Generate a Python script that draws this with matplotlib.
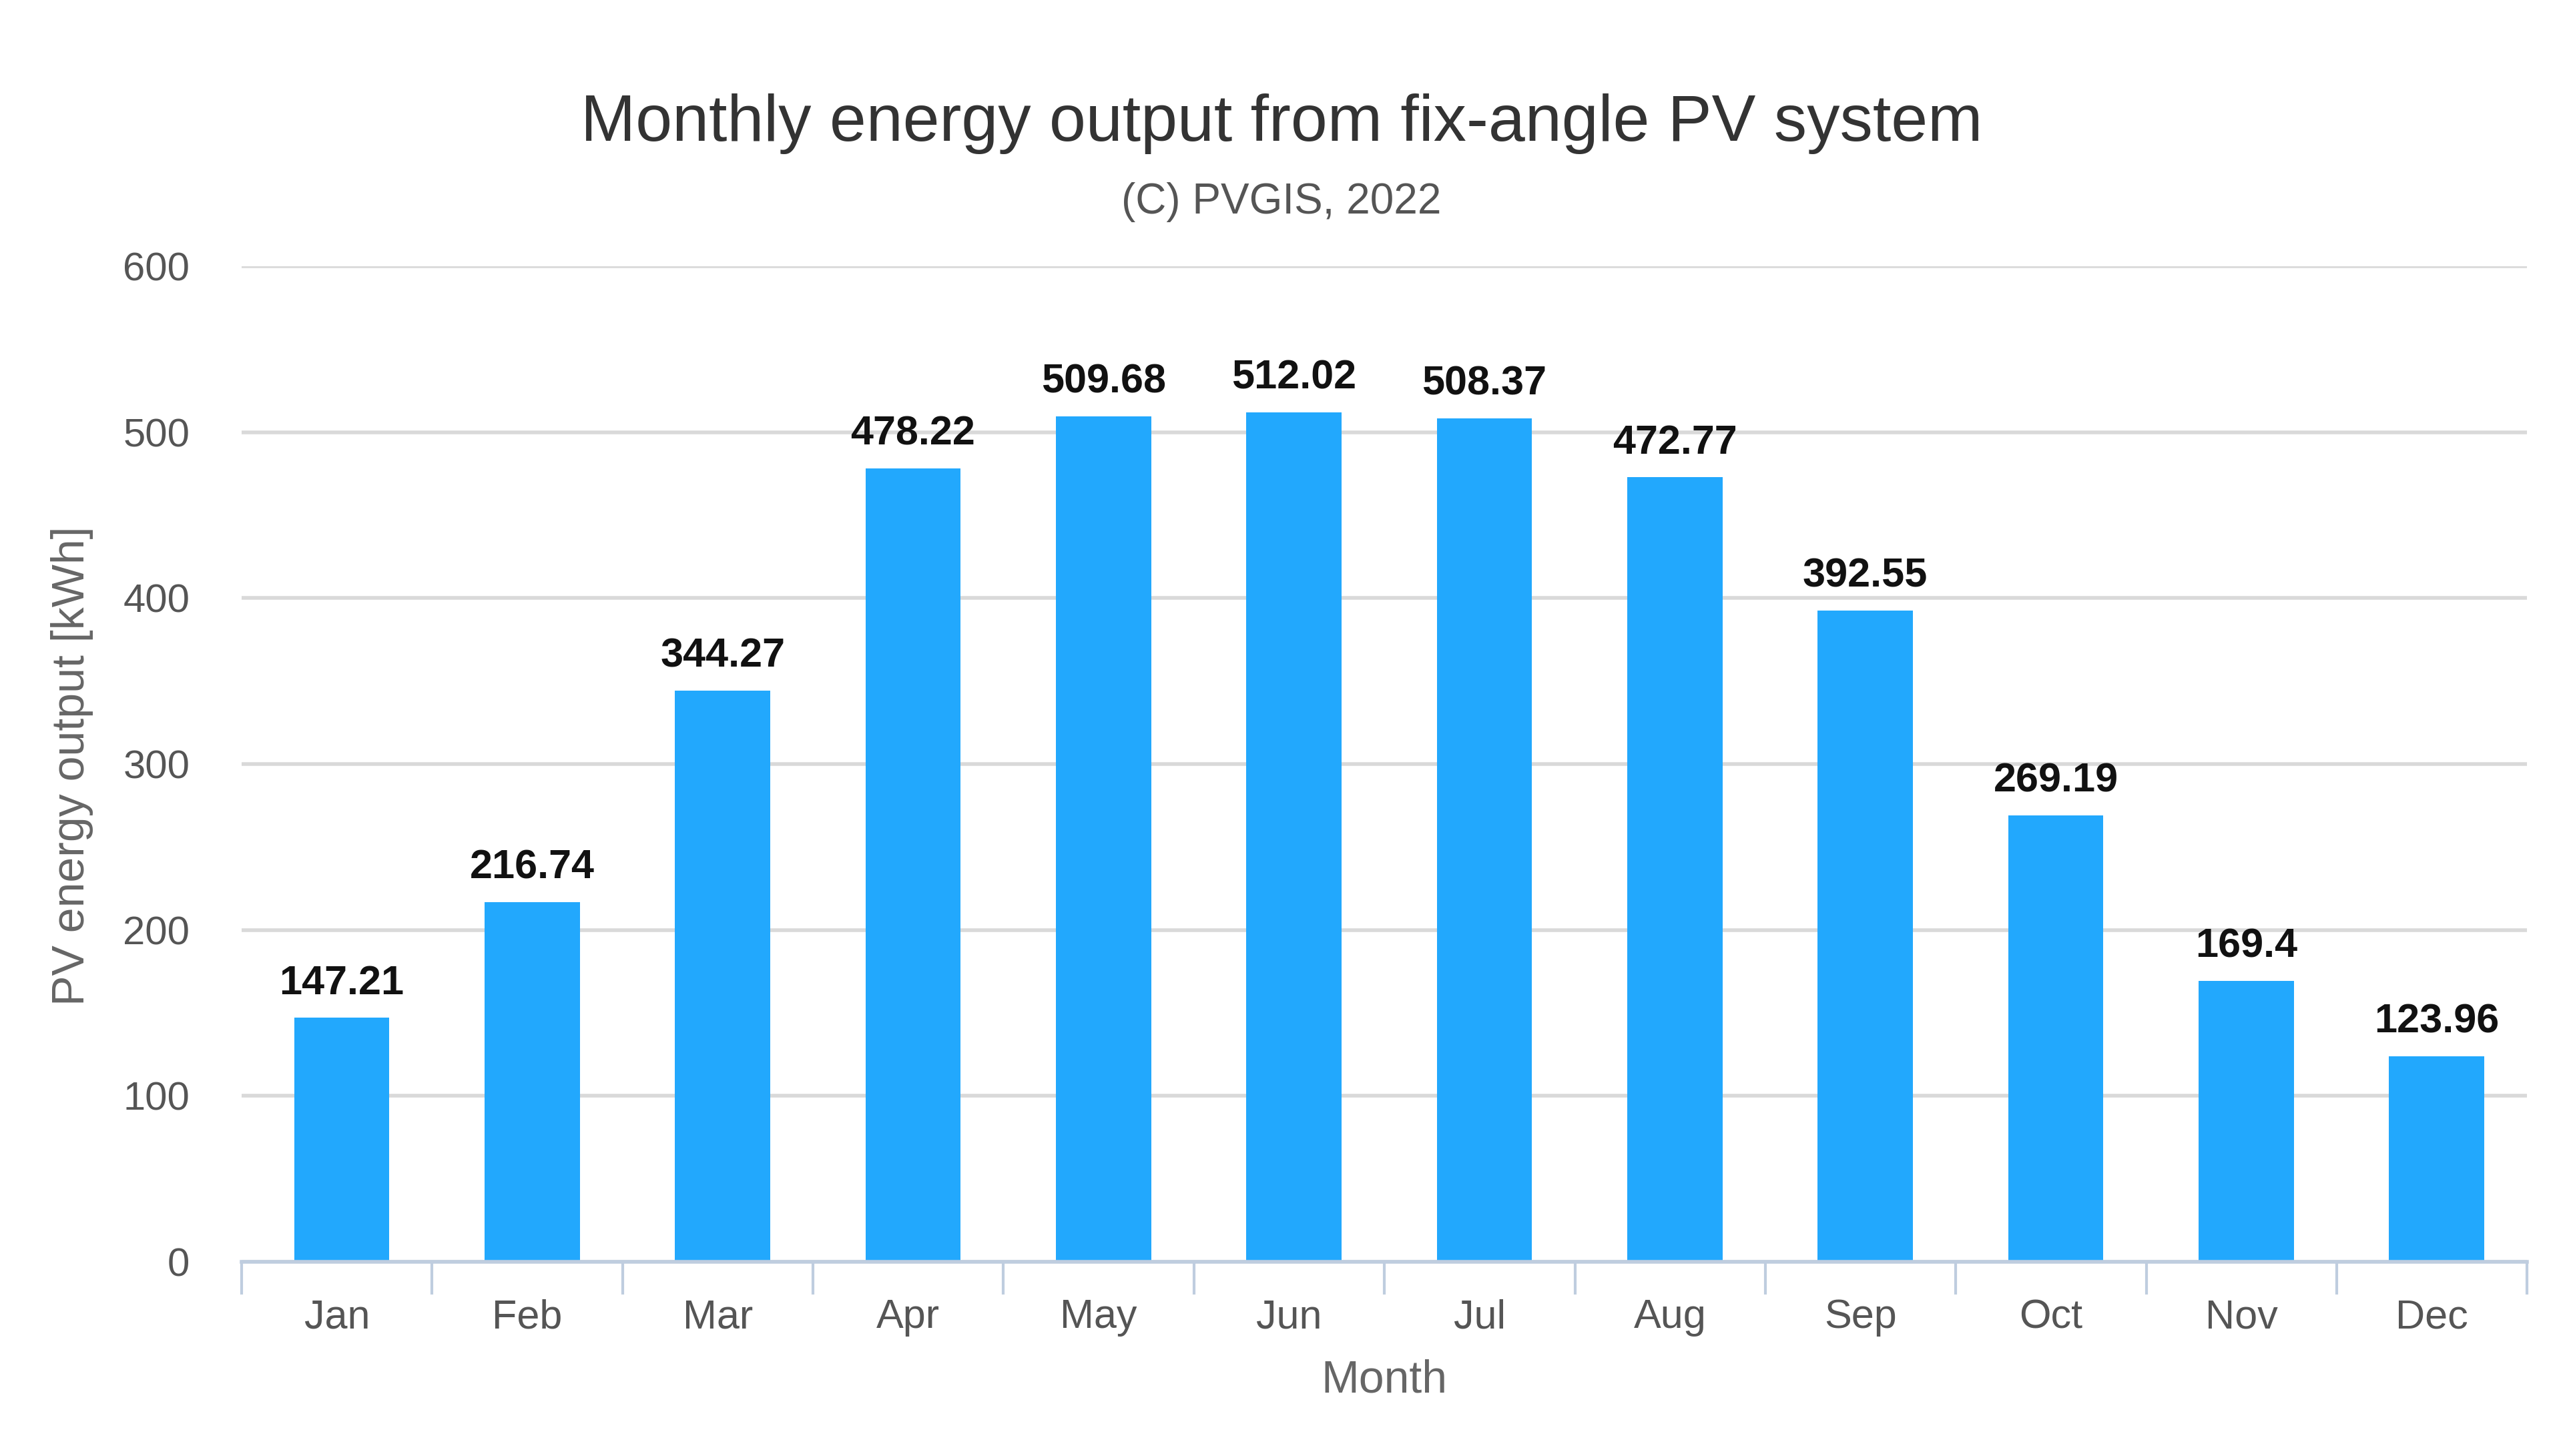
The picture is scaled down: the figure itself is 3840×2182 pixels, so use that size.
import matplotlib
matplotlib.use("Agg")
import matplotlib.pyplot as plt
import numpy as np

months = ["Jan", "Feb", "Mar", "Apr", "May", "Jun", "Jul", "Aug", "Sep", "Oct", "Nov", "Dec"]
energy = [147.21, 216.74, 344.27, 478.22, 509.68, 512.02, 508.37, 472.77, 392.55, 269.19, 169.4, 123.96]
yticks = [0, 100, 200, 300, 400, 500, 600]

plt.rcParams['font.family'] = ['Liberation Sans', 'DejaVu Sans']

fig = plt.figure(figsize=(19.2, 10.91), dpi=200)
ax = fig.add_axes([0.0943, 0.1334, 0.8917, 0.6837])

x = np.arange(len(months))
ax.bar(x + 0.025, energy, width=0.5, color='#22A8FD', zorder=3)

for xi, v in zip(x, energy):
    ax.annotate(f"{v:g}", (xi + 0.025, v), xytext=(0, 8), textcoords='offset points',
                ha='center', va='bottom', fontsize=22, fontweight='bold', color='#111111')

ax.set_xlim(-0.5, len(months) - 0.5)
ax.set_ylim(0, 600)
ax.set_yticks(yticks)
ax.set_yticklabels([str(t) for t in yticks])
ax.yaxis.grid(True, color='#D9D9D9', linewidth=2)
ax.set_axisbelow(True)
ax.tick_params(axis='y', length=0, pad=28, labelsize=21.5, labelcolor='#555555')

ax.set_xticks(x)
ax.set_xticklabels(months)
ax.set_xticks(np.arange(-0.5, len(months)), minor=True)
ax.tick_params(axis='x', which='major', length=0, pad=20, labelsize=22, labelcolor='#555555')
ax.tick_params(axis='x', which='minor', length=17.5, width=1.5, color='#BFCDDF')

for s in ['top', 'right', 'left']:
    ax.spines[s].set_visible(False)
ax.spines['bottom'].set_color('#BFCDDF')
ax.spines['bottom'].set_linewidth(2)
ax.spines['bottom'].set_zorder(4)

fig.text(0.5, 0.915, "Monthly energy output from fix-angle PV system", ha='center', va='center',
         fontsize=35.5, color='#333333')
fig.text(0.5, 0.861, "(C) PVGIS, 2022", ha='center', va='center', fontsize=23, color='#555555')
fig.text(0.54, 0.052, "Month", ha='center', va='center', fontsize=24.5, color='#666666')
fig.text(0.028, 0.474, "PV energy output [kWh]", ha='center', va='center', rotation=90,
         fontsize=24.5, color='#666666')

fig.savefig("out.png", dpi=200)
